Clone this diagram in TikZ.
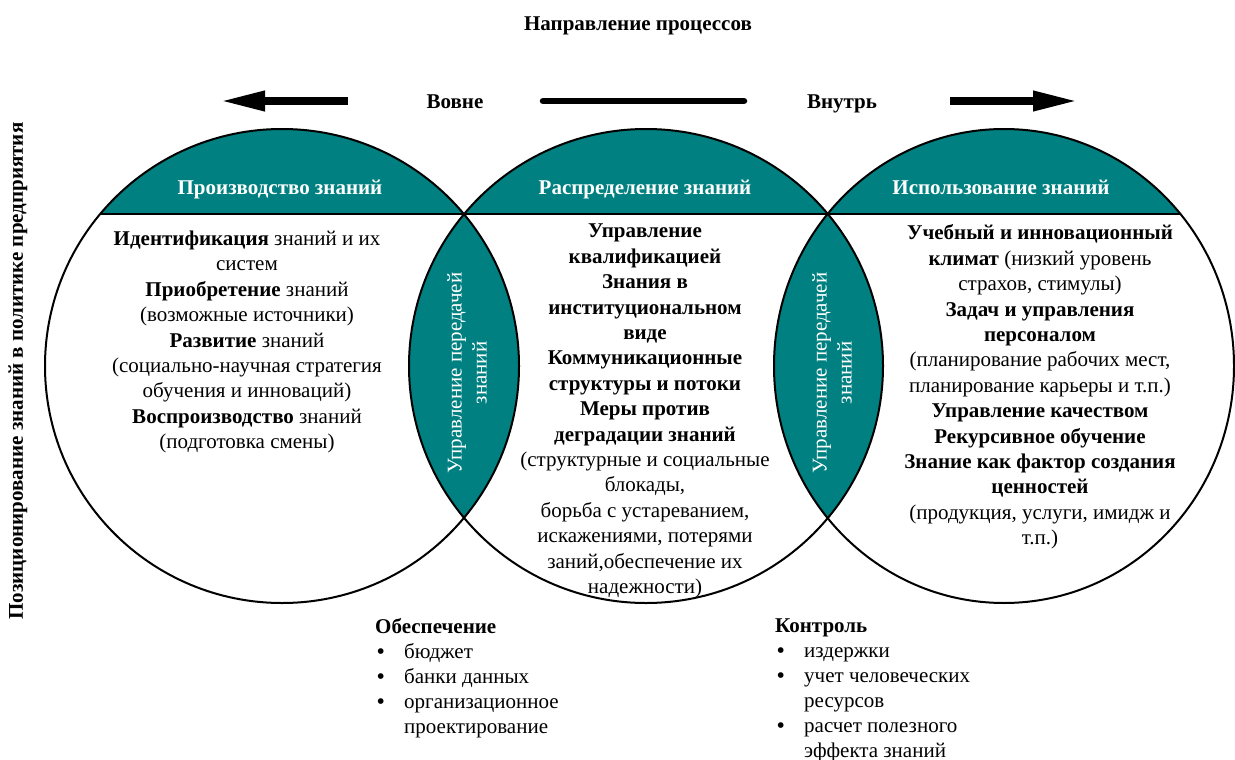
\documentclass[tikz,border=0pt]{standalone}
\usepackage{fontspec}
\setmainfont{Liberation Serif}
\usetikzlibrary{arrows.meta}
\definecolor{tealc}{RGB}{0,128,128}
\begin{document}
\begin{tikzpicture}[x=1pt,y=-1pt,
  txt/.style={font=\fontsize{21}{25.4}\selectfont, align=center, inner sep=0pt},
  lbl/.style={font=\fontsize{21}{25}\selectfont\bfseries, inner sep=0pt, anchor=base},
  caplbl/.style={lbl, text=white},
  lenslbl/.style={font=\fontsize{21}{25}\selectfont, text=white, align=center, rotate=90, inner sep=0pt},
  listlbl/.style={font=\fontsize{21}{25}\selectfont, align=left, inner sep=0pt, anchor=north west},
  outline/.style={line width=2pt, draw=black},
  bigarrow/.style={line width=7pt, -{Triangle[length=44pt,width=19pt]}},
  bar/.style={line width=6.5pt, line cap=round},
]
\useasboundingbox (0,0) rectangle (1235,760);
\fill[white] (0,0) rectangle (1235,760);

\coordinate (L) at (282,366);
\coordinate (M) at (646,366);
\coordinate (R) at (1004,366);
\def\circL{(L) circle[radius=237pt]}
\def\circM{(M) circle[radius=237pt]}
\def\circR{(R) ellipse[x radius=230pt,y radius=237pt]}

% caps
\begin{scope}
  \clip (0,0) rectangle (1235,214);
  \fill[tealc] \circL;
  \fill[tealc] \circM;
  \fill[tealc] \circR;
\end{scope}
% lenses
\begin{scope}
  \clip \circL;
  \fill[tealc] \circM;
\end{scope}
\begin{scope}
  \clip \circM;
  \fill[tealc] \circR;
\end{scope}
% chords
\begin{scope}\clip \circL; \draw[outline] (0,214) -- (1235,214);\end{scope}
\begin{scope}\clip \circM; \draw[outline] (0,214) -- (1235,214);\end{scope}
\begin{scope}\clip \circR; \draw[outline] (0,214) -- (1235,214);\end{scope}
% outlines
\draw[outline] \circL;
\draw[outline] \circM;
\draw[outline] \circR;

% header
\node[lbl] (title) at (638,31) {Направление процессов};
\node[lbl] (out) at (455,108) {Вовне};
\node[lbl] (in) at (842,108) {Внутрь};
\coordinate (a1s) at (348,101); \coordinate (a1e) at (221,101);
\coordinate (b1) at (543,101);  \coordinate (b2) at (744,101);
\coordinate (a2s) at (950,101); \coordinate (a2e) at (1077,101);
\draw[bigarrow] (a1s) -- (a1e);
\draw[bar] (b1) -- (b2);
\draw[bigarrow] (a2s) -- (a2e);

% side label
\node[font=\fontsize{21}{25}\selectfont\bfseries, rotate=90, inner sep=0pt] (side) at (18,371)
  {Позиционирование знаний в политике предприятия};

% cap labels
\node[caplbl] (c1) at (280,194) {Производство знаний};
\node[caplbl] (c2) at (645,194) {Распределение знаний};
\node[caplbl] (c3) at (1001,194) {Использование знаний};

% lens labels
\node[lenslbl] (l1) at (467,373) {Управление передачей\\знаний};
\node[lenslbl] (l2) at (832,373) {Управление передачей\\знаний};

% circle texts
\node[txt] (t1) at (247,342) {\textbf{Идентификация} знаний и их\\систем\\\textbf{Приобретение} знаний\\(возможные источники)\\\textbf{Развитие} знаний\\(социально-научная стратегия\\обучения и инноваций)\\\textbf{Воспроизводство} знаний\\(подготовка смены)};

\node[txt] (t2) at (645,411) {\textbf{Управление}\\\textbf{квалификацией}\\\textbf{Знания в}\\\textbf{институциональном}\\\textbf{виде}\\\textbf{Коммуникационные}\\\textbf{структуры и потоки}\\\textbf{Меры против}\\\textbf{деградации знаний}\\(структурные и социальные\\блокады,\\борьба с устареванием,\\искажениями, потерями\\заний,обеспечение их\\надежности)};

\node[txt] (t3) at (1040,387) {\textbf{Учебный и инновационный}\\\textbf{климат} (низкий уровень\\страхов, стимулы)\\\textbf{Задач и управления}\\\textbf{персоналом}\\(планирование рабочих мест,\\планирование карьеры и т.п.)\\\textbf{Управление качеством}\\\textbf{Рекурсивное обучение}\\\textbf{Знание как фактор создания}\\\textbf{ценностей}\\(продукция, услуги, имидж и\\т.п.)};

% bottom lists
\newcommand{\blt}{\makebox[29pt][l]{\hspace{2pt}\textbf{\textbullet}}}
\node[listlbl] (sup) at (375,618) {\textbf{Обеспечение}\\\blt бюджет\\\blt банки данных\\\blt организационное\\\hspace*{29pt}проектирование};
\node[listlbl] (ctl) at (775,619) {\textbf{Контроль}\\\blt издержки\\\blt учет человеческих\\\hspace*{29pt}ресурсов\\\blt расчет полезного\\\hspace*{29pt}эффекта знаний};
\end{tikzpicture}
\end{document}
